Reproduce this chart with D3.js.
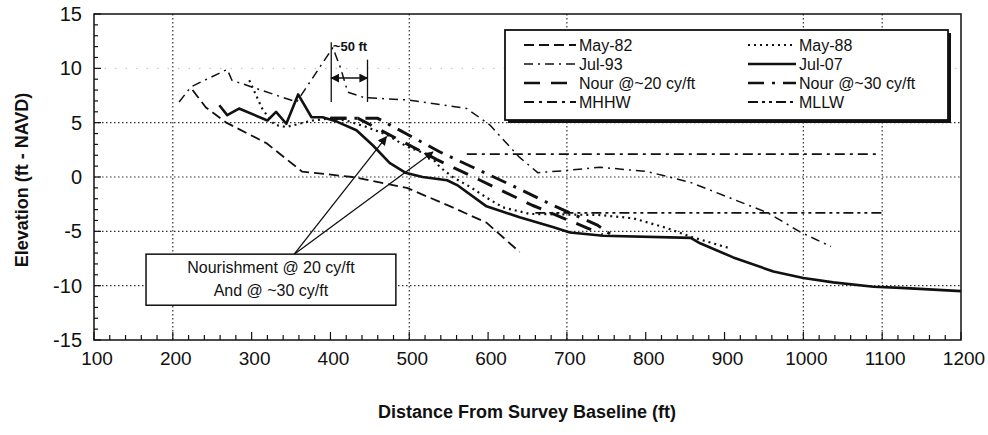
<!DOCTYPE html>
<html><head><meta charset="utf-8">
<script src="https://cdn.jsdelivr.net/npm/d3@7"></script>
<style>body{margin:0;background:#fff}svg{display:block}text{font-family:"Liberation Sans",Arial,sans-serif;fill:#111}</style>
</head><body><svg id="c" width="988" height="435"></svg>
<script>
// ---- data (distance ft, elevation ft NAVD) ----
const xTicks = [100,200,300,400,500,600,700,800,900,1000,1100,1200];
const yTicks = [-15,-10,-5,0,5,10,15];
const xGrid = [200,500,700,1000,1100];
const yGrid = [-10,-5,0,5];
const yGridFaint = [10];

const may82 = [[225,8.0],[242,6.4],[268,5.0],[319,3.1],[364,0.5],[428,0.0],[497,-1.0],[555,-2.8],[598,-4.2],[640,-6.9]];
const may88 = [[297,8.9],[314,6.2],[329,4.8],[344,4.6],[377,5.2],[399,5.4],[420,5.2],[446,4.6],[471,3.9],[497,2.8],[526,2.0],[539,0.9],[555,0.0],[577,-0.9],[598,-1.9],[619,-2.8],[653,-3.4],[742,-3.5],[784,-3.8],[827,-4.7],[857,-5.5],[904,-6.5]];
const jul93 = [[208,6.9],[223,8.3],[269,9.9],[275,8.9],[357,6.9],[403,11.9],[413,10.0],[422,7.8],[443,7.3],[497,7.1],[573,6.3],[602,4.8],[640,1.8],[663,0.4],[700,0.6],[742,0.9],[802,0.5],[857,-0.5],[955,-3.3],[997,-5.1],[1035,-6.4]];
const jul07 = [[259,6.6],[269,5.7],[284,6.3],[320,5.2],[331,6.0],[344,4.9],[359,7.6],[376,5.5],[390,5.5],[408,5.1],[433,4.3],[454,2.9],[475,1.3],[495,0.4],[517,0.0],[548,-0.3],[562,-0.8],[598,-2.7],[640,-3.7],[682,-4.6],[704,-5.1],[746,-5.4],[857,-5.6],[869,-6.1],[911,-7.4],[962,-8.7],[1000,-9.3],[1038,-9.7],[1089,-10.1],[1124,-10.2],[1200,-10.5]];
const nour20 = [[400,5.4],[435,5.4],[535,1.6],[590,-0.3],[656,-2.6],[726,-4.7],[745,-5.3]];
const nour30 = [[400,5.4],[460,5.4],[539,2.3],[628,-0.7],[682,-2.6],[738,-4.4],[758,-5.4]];
const mhhw = [[573,2.1],[1095,2.1]];
const mllw = [[660,-3.3],[1100,-3.3]];

const legendLabels = ["May-82","May-88","Jul-93","Jul-07","Nour @~20 cy/ft","Nour @~30 cy/ft","MHHW","MLLW"];
const annoText = ["~50 ft","Nourishment @ 20 cy/ft","And @ ~30 cy/ft"];
const xTitle = "Distance From Survey Baseline (ft)";
const yTitle = "Elevation (ft - NAVD)";

// ---- styles ----
const styles = {
  "May-82": {w:1.8, dash:"10,5"},
  "May-88": {w:2.2, dash:"2,4"},
  "Jul-93": {w:1.5, dash:"9,5,2,5"},
  "Jul-07": {w:2.6, dash:null},
  "Nour @~20 cy/ft": {w:3, dash:"16,11"},
  "Nour @~30 cy/ft": {w:3, dash:"16,8,3,8"},
  "MHHW": {w:1.8, dash:"10,5,3,5"},
  "MLLW": {w:1.8, dash:"10,4,3,4,3,4"}
};
const seriesData = {"May-82":may82,"May-88":may88,"Jul-93":jul93,"Jul-07":jul07,"Nour @~20 cy/ft":nour20,"Nour @~30 cy/ft":nour30,"MHHW":mhhw,"MLLW":mllw};

const svg = d3.select("#c");
const x = d3.scaleLinear().domain([100,1200]).range([94,961]);
const y = d3.scaleLinear().domain([-15,15]).range([340,14]);

const defs = svg.append("defs");
defs.append("marker").attr("id","ah").attr("viewBox","0 0 10 10").attr("refX",9).attr("refY",5)
  .attr("markerWidth",9).attr("markerHeight",9).attr("markerUnits","userSpaceOnUse").attr("orient","auto-start-reverse")
  .append("path").attr("d","M0,0L10,5L0,10z").attr("fill","#111");

// grid
const g = svg.append("g");
g.selectAll(".gx").data(xGrid).join("line").attr("x1",d=>x(d)).attr("x2",d=>x(d)).attr("y1",y(15)).attr("y2",y(-15))
  .attr("stroke","#333").attr("stroke-width",1.2).attr("stroke-dasharray","1.5,2.5");
g.selectAll(".gy").data(yGrid).join("line").attr("y1",d=>y(d)).attr("y2",d=>y(d)).attr("x1",x(100)).attr("x2",x(1200))
  .attr("stroke","#333").attr("stroke-width",1.2).attr("stroke-dasharray","1.5,2.5");
g.selectAll(".gyf").data(yGridFaint).join("line").attr("y1",d=>y(d)).attr("y2",d=>y(d)).attr("x1",x(100)).attr("x2",x(1200))
  .attr("stroke","#bbb").attr("stroke-width",1).attr("stroke-dasharray","1.5,9");

// frame
svg.append("rect").attr("x",x(100)).attr("y",y(15)).attr("width",x(1200)-x(100)).attr("height",y(-15)-y(15))
  .attr("fill","none").attr("stroke","#111").attr("stroke-width",1.5);

// axes with inside ticks
const xMinor = d3.range(100,1201,20);
svg.append("g").selectAll("line").data(xMinor).join("line")
  .attr("x1",d=>x(d)).attr("x2",d=>x(d)).attr("y1",y(-15)).attr("y2",d=>y(-15)-(d%100===0?8:5))
  .attr("stroke","#111").attr("stroke-width",1.2);
const yMinor = d3.range(-15,16,1);
svg.append("g").selectAll("line").data(yMinor).join("line")
  .attr("y1",d=>y(d)).attr("y2",d=>y(d)).attr("x1",x(100)).attr("x2",d=>x(100)+(d%5===0?7:4))
  .attr("stroke","#111").attr("stroke-width",1.2);

svg.append("g").selectAll("text").data(xTicks).join("text")
  .attr("x",d=>x(d)+3).attr("y",365).attr("text-anchor","middle").attr("font-size",19).text(d=>d);
svg.append("g").selectAll("text").data(yTicks).join("text")
  .attr("x",82).attr("y",d=>y(d)+7).attr("text-anchor","end").attr("font-size",20).text(d=>d);

svg.append("text").attr("x",527).attr("y",418).attr("text-anchor","middle").attr("font-size",18).attr("font-weight","bold").text(xTitle);
svg.append("text").attr("transform","translate(28,180) rotate(-90)").attr("text-anchor","middle").attr("font-size",18).attr("font-weight","bold").text(yTitle);

// series
const line = d3.line().x(d=>x(d[0])).y(d=>y(d[1]));
const order = ["MHHW","MLLW","May-82","Jul-93","May-88","Nour @~20 cy/ft","Nour @~30 cy/ft","Jul-07"];
order.forEach(k=>{
  const s = styles[k];
  svg.append("path").datum(seriesData[k]).attr("d",line).attr("fill","none").attr("stroke","#111")
    .attr("stroke-width",s.w).attr("stroke-dasharray",s.dash).attr("stroke-linejoin","round");
});

// ~50 ft annotation
const ann = svg.append("g").attr("stroke","#111").attr("stroke-width",1.3);
ann.append("line").attr("x1",x(401)).attr("x2",x(401)).attr("y1",y(12.4)).attr("y2",y(6.9));
ann.append("line").attr("x1",x(447)).attr("x2",x(447)).attr("y1",y(10.8)).attr("y2",y(6.9));
ann.append("line").attr("x1",x(401)).attr("x2",x(447)).attr("y1",y(9.1)).attr("y2",y(9.1))
  .attr("marker-start","url(#ah)").attr("marker-end","url(#ah)").attr("stroke-width",1.5);
svg.append("text").attr("x",x(403)).attr("y",y(11.6)).attr("font-size",13).attr("font-weight","bold").text(annoText[0]);

// nourishment box + arrows
const bx0=x(166), bx1=x(483), by0=y(-7.1), by1=y(-11.8);
svg.append("line").attr("x1",x(354)).attr("y1",y(-7.1)).attr("x2",x(471)).attr("y2",y(3.7))
  .attr("stroke","#111").attr("stroke-width",1.3).attr("marker-end","url(#ah)");
svg.append("line").attr("x1",x(354)).attr("y1",y(-7.1)).attr("x2",x(530)).attr("y2",y(2.3))
  .attr("stroke","#111").attr("stroke-width",1.3).attr("marker-end","url(#ah)");
svg.append("rect").attr("x",bx0).attr("y",by0).attr("width",bx1-bx0).attr("height",by1-by0)
  .attr("fill","#fff").attr("stroke","#111").attr("stroke-width",1.5);
svg.append("text").attr("x",(bx0+bx1)/2).attr("y",by0+19).attr("text-anchor","middle").attr("font-size",16).text(annoText[1]);
svg.append("text").attr("x",(bx0+bx1)/2).attr("y",by0+42).attr("text-anchor","middle").attr("font-size",16).text(annoText[2]);

// legend
const lg = svg.append("g");
lg.append("rect").attr("x",508).attr("y",33).attr("width",443).attr("height",90).attr("fill","#111");
lg.append("rect").attr("x",505).attr("y",30).attr("width",443).attr("height",90).attr("fill","#fff").attr("stroke","#111").attr("stroke-width",1.8);
legendLabels.forEach((k,i)=>{
  const col = i%2, row = Math.floor(i/2);
  const ly = 45 + row*19;
  const sx0 = col?748:524, sx1 = col?796:576;
  const s = styles[k];
  lg.append("line").attr("x1",sx0).attr("x2",sx1).attr("y1",ly).attr("y2",ly).attr("stroke","#111")
    .attr("stroke-width",Math.min(s.w,2.6)).attr("stroke-dasharray",s.dash);
  lg.append("text").attr("x",sx1+3).attr("y",ly+6).attr("font-size",16).text(k);
});
</script></body></html>
